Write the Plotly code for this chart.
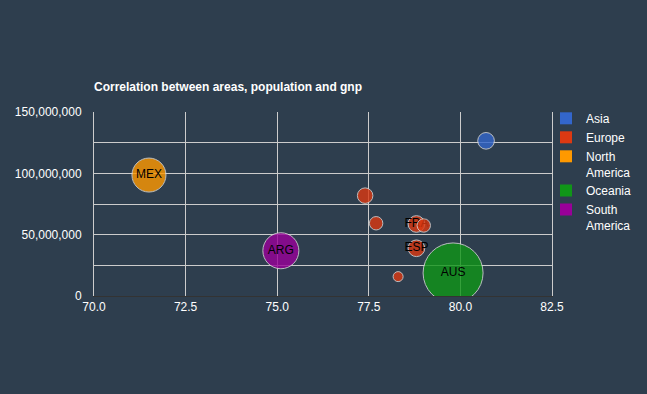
import plotly.graph_objects as go

# ---- data ----
country_ids = ["JPN", "DEU", "GBR", "FRA", "ITA", "ESP", "NLD", "MEX", "AUS", "ARG"]
life_expectancy = [80.7, 77.4, 77.7, 78.8, 79.0, 78.8, 78.3, 71.5, 79.8, 75.1]
population = [126.5e6, 81.8e6, 59.3e6, 58.7e6, 57.5e6, 38.9e6, 15.8e6, 98.6e6, 18.8e6, 36.9e6]
regions = ["Asia", "Europe", "Europe", "Europe", "Europe", "Europe", "Europe",
           "North America", "Oceania", "South America"]
bubble_size_value = [300, 240, 145, 300, 145, 300, 42, 2080, 7740, 2390]
labelled_ids = ["FRA", "ESP", "MEX", "AUS", "ARG"]

region_names = ["Asia", "Europe", "North America", "Oceania", "South America"]
region_legend_text = ["Asia", "Europe", "North<br>America", "Oceania", "South<br>America"]
region_colors = ["#3366cc", "#dc3912", "#ff9900", "#109618", "#990099"]

title_text = "Correlation between areas, population and gnp"
x_tick_values = [70.0, 72.5, 75.0, 77.5, 80.0, 82.5]
y_tick_values = [0, 25e6, 50e6, 75e6, 100e6, 125e6, 150e6]
y_tick_labels = ["0", "", "50,000,000", "", "100,000,000", "", "150,000,000"]

# ---- styling ----
BG = "#2e3e4e"
FONT = "Liberation Sans, Arial, sans-serif"
MIN_R, MAX_R = 5, 30
color_of = dict(zip(region_names, region_colors))

sq = [v ** 0.5 for v in bubble_size_value]
lo, hi = min(sq), max(sq)
radii = [MIN_R + (MAX_R - MIN_R) * (s - lo) / (hi - lo) for s in sq]

fig = go.Figure()

# one trace per bubble so that draw order (and label covering) follows data order
for cid, x, y, reg, r in zip(country_ids, life_expectancy, population, regions, radii):
    fig.add_trace(go.Scatter(
        x=[x], y=[y],
        mode="markers+text",
        text=[cid if cid in labelled_ids else ""],
        textposition="middle center",
        textfont=dict(family=FONT, size=12, color="#000000"),
        marker=dict(size=2 * r, color=color_of[reg], opacity=0.8,
                    line=dict(color="#dddddd", width=1)),
        showlegend=False,
        legendgroup=reg,
        name=cid,
        hovertemplate=f"{cid}<br>{reg}<br>%{{x}}, %{{y:,}}<extra></extra>",
    ))

# legend entries (square swatches)
for reg, txt in zip(region_names, region_legend_text):
    fig.add_trace(go.Scatter(
        x=[None], y=[None], mode="markers",
        marker=dict(symbol="square", size=12, color=color_of[reg]),
        name=txt, legendgroup=reg, showlegend=True,
    ))

fig.update_layout(
    width=647, height=394,
    paper_bgcolor=BG, plot_bgcolor=BG,
    margin=dict(l=94, r=95, t=112, b=98, autoexpand=False),
    font=dict(family=FONT, size=12, color="#ffffff"),
    title=dict(text="<b>" + title_text + "</b>", x=0, xref="paper", xanchor="left",
               y=1 - 87 / 394, yref="container", yanchor="middle",
               font=dict(family=FONT, size=12, color="#ffffff")),
    xaxis=dict(range=[70, 82.5], tickvals=x_tick_values, tickformat=".1f",
               showgrid=True, gridcolor="#cccccc", gridwidth=1,
               zeroline=False, showline=True, linecolor="#333333", linewidth=1,
               ticks="", tickfont=dict(size=12, color="#ffffff")),
    yaxis=dict(range=[0, 150e6], tickvals=y_tick_values, ticktext=y_tick_labels,
               showgrid=True, gridcolor="#cccccc", gridwidth=1,
               zeroline=False, showline=True, linecolor="#cccccc", linewidth=1,
               mirror=True, ticklabelstandoff=9,
               ticks="", tickfont=dict(size=12, color="#ffffff")),
    legend=dict(x=(546 - 94) / 458, xanchor="left", y=(296 - 104) / 184, yanchor="top",
                font=dict(family=FONT, size=12, color="#ffffff"),
                valign="top", bgcolor="rgba(0,0,0,0)", itemsizing="constant",
                tracegroupgap=0),
    showlegend=True,
)

fig.write_html("out.html", config={"displayModeBar": False},
               post_script="document.body.style.margin='0';document.body.style.background='#2e3e4e';")
